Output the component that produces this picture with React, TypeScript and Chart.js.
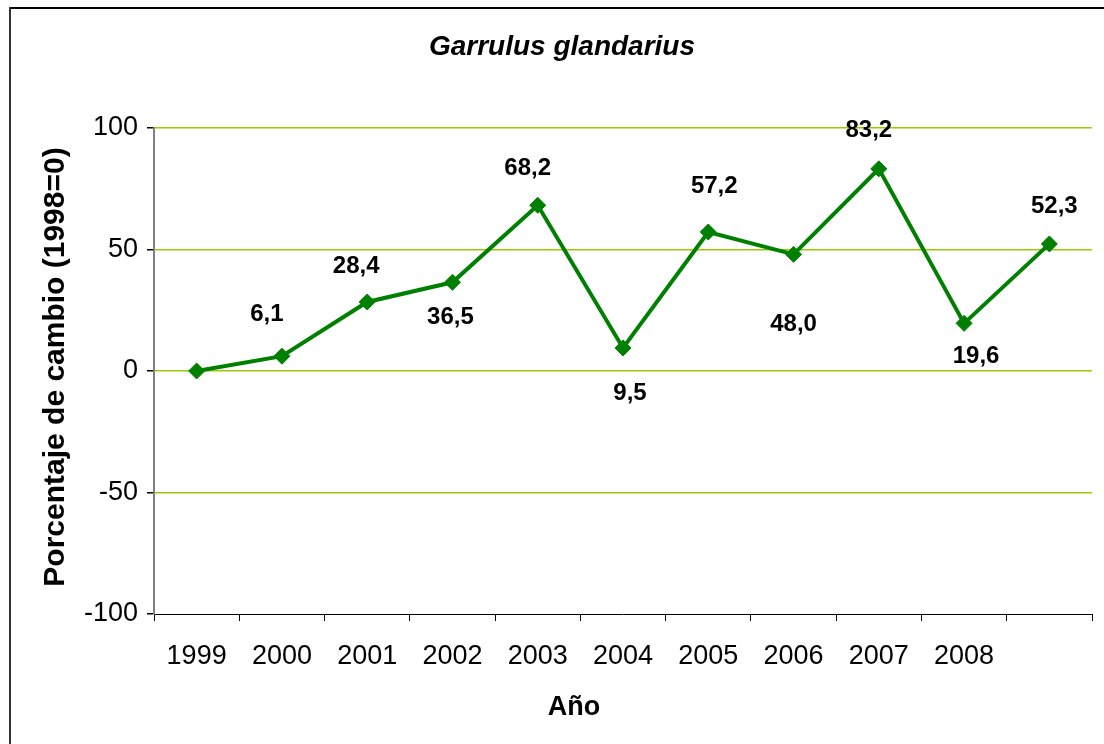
import React, { useEffect, useRef } from "react";
import { Chart, registerables } from "chart.js";

Chart.register(...registerables);

const categories = ["1999", "2000", "2001", "2002", "2003", "2004", "2005", "2006", "2007", "2008", ""];
const values = [0, 6.1, 28.4, 36.5, 68.2, 9.5, 57.2, 48.0, 83.2, 19.6, 52.3];
const valueLabels = ["", "6,1", "28,4", "36,5", "68,2", "9,5", "57,2", "48,0", "83,2", "19,6", "52,3"];
const labelOffsets: [number, number][] = [
  [0, 0], [-15, -42], [-11, -36], [-2, 35], [-10, -37], [7, 45], [6, -46], [0, 70], [-10, -38], [12, 33], [5, -38],
];
const yTicks = [-100, -50, 0, 50, 100];

const FONT = "'Liberation Sans', Arial, sans-serif";

export default function App() {
  const ref = useRef<HTMLCanvasElement | null>(null);
  useEffect(() => {
    if (!ref.current) return;
    const deco = {
      id: "deco",
      afterDraw(chart: any) {
        const ctx = chart.ctx;
        ctx.save();
        ctx.fillStyle = "#000";
        ctx.fillRect(9, 7, 1104, 2);
        ctx.fillStyle = "#333";
        ctx.fillRect(9, 7, 2, 744);
        ctx.fillStyle = "#000";
        ctx.textAlign = "center";
        ctx.textBaseline = "middle";
        ctx.font = `italic bold 28px ${FONT}`;
        ctx.fillText("Garrulus glandarius", 562, 47);
        ctx.font = `bold 27px ${FONT}`;
        ctx.fillText("Año", 574, 708);
        ctx.save();
        ctx.translate(56, 367);
        ctx.rotate(-Math.PI / 2);
        ctx.font = `bold 30px ${FONT}`;
        ctx.fillText("Porcentaje de cambio (1998=0)", 0, 0);
        ctx.restore();
        const meta = chart.getDatasetMeta(0);
        ctx.font = `bold 24px ${FONT}`;
        meta.data.forEach((pt: any, i: number) => {
          const t = valueLabels[i];
          if (!t) return;
          const [dx, dy] = labelOffsets[i];
          ctx.fillText(t, pt.x + dx, pt.y + dy);
        });
        ctx.restore();
      },
    };
    const chart = new Chart(ref.current, {
      type: "line",
      data: {
        labels: categories,
        datasets: [
          {
            data: values,
            borderColor: "#008000",
            backgroundColor: "#008000",
            borderWidth: 4,
            pointStyle: "rectRot",
            pointRadius: 8,
            pointBorderWidth: 1,
            pointBorderColor: "#008000",
            pointBackgroundColor: "#008000",
            tension: 0,
          },
        ],
      },
      options: {
        responsive: false,
        animation: false,
        devicePixelRatio: 1,
        layout: { padding: { top: 128, right: 12, bottom: 0, left: 0 } },
        plugins: { legend: { display: false }, tooltip: { enabled: false }, title: { display: false } },
        scales: {
          x: {
            type: "category",
            offset: true,
            grid: { offset: true, drawOnChartArea: false, drawTicks: true, tickLength: 7, color: "#000" },
            border: { color: "#000", width: 1 },
            ticks: { color: "#000", font: { family: FONT, size: 27 }, padding: 19, maxRotation: 0, autoSkip: false },
            afterFit: (s: any) => { s.height = 130; },
          },
          y: {
            min: -100,
            max: 100,
            afterBuildTicks: (s: any) => { s.ticks = yTicks.map((v) => ({ value: v })); },
            ticks: { color: "#000", font: { family: FONT, size: 27 }, padding: 9 },
            grid: {
              color: (c: any) => (c.tick && c.tick.value === -100 ? "rgba(0,0,0,0)" : "#99CC00"),
              tickColor: "#000",
              tickLength: 7,
              lineWidth: 1.5,
            },
            border: { color: "#808080", width: 2 },
            afterFit: (s: any) => { s.width = 154; },
          },
        },
      },
      plugins: [deco],
    });
    return () => chart.destroy();
  }, []);
  return (
    <div style={{ position: "fixed", left: 0, top: 0, width: 1104, height: 744, background: "#fff" }}>
      <canvas ref={ref} width={1104} height={744} />
    </div>
  );
}
